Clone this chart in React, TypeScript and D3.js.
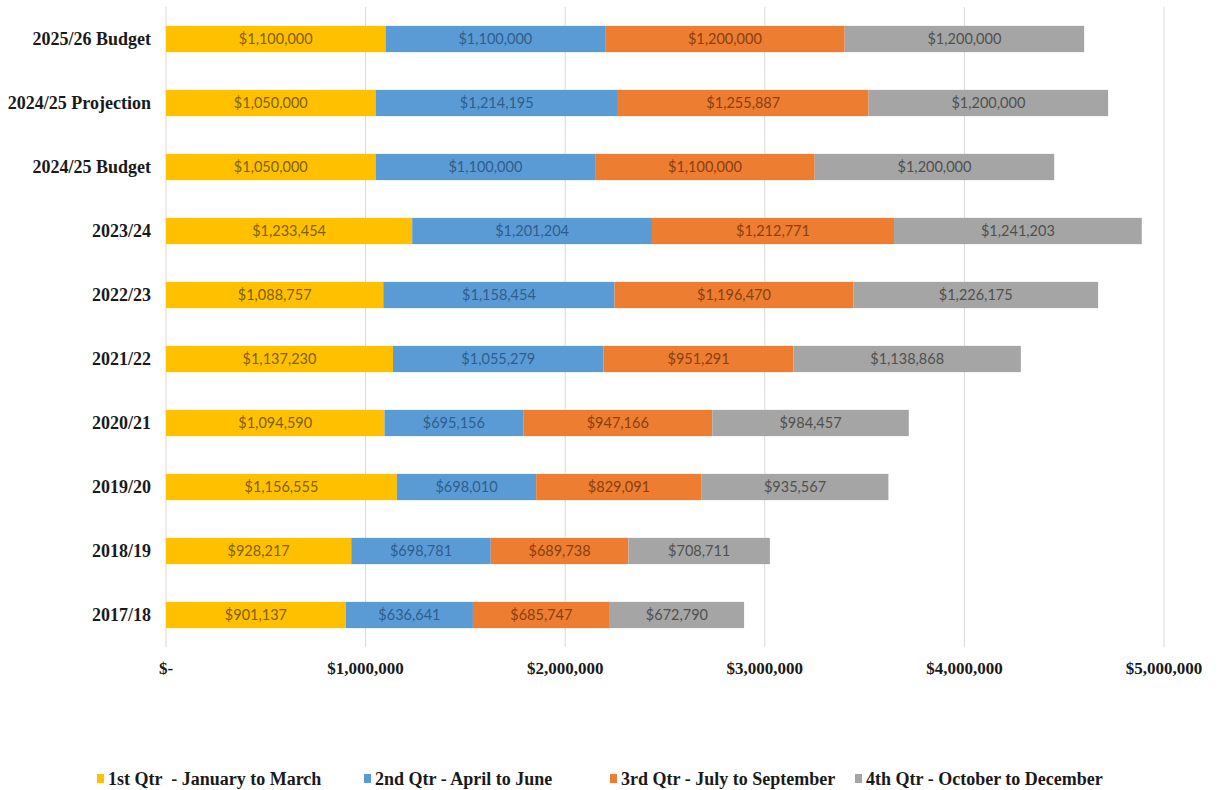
import React from "react";
import * as d3 from "d3";

const categories = [
  "2025/26 Budget",
  "2024/25 Projection",
  "2024/25 Budget",
  "2023/24",
  "2022/23",
  "2021/22",
  "2020/21",
  "2019/20",
  "2018/19",
  "2017/18",
];
const q1 = [1100000, 1050000, 1050000, 1233454, 1088757, 1137230, 1094590, 1156555, 928217, 901137];
const q2 = [1100000, 1214195, 1100000, 1201204, 1158454, 1055279, 695156, 698010, 698781, 636641];
const q3 = [1200000, 1255887, 1100000, 1212771, 1196470, 951291, 947166, 829091, 689738, 685747];
const q4 = [1200000, 1200000, 1200000, 1241203, 1226175, 1138868, 984457, 935567, 708711, 672790];
const seriesNames = [
  "1st Qtr \u00a0- January to March",
  "2nd Qtr - April to June",
  "3rd Qtr - July to September",
  "4th Qtr - October to December",
];
const seriesColors = ["#FFC000", "#5B9BD5", "#ED7D31", "#A5A5A5"];
const labelColors = ["#7F6000", "#2E5E8C", "#8A3F10", "#505050"];
const xTicks = [0, 1000000, 2000000, 3000000, 4000000, 5000000];

const W = 1220;
const H = 790;
const left = 166;
const right = 1164;
const top = 7;
const bottom = 647;

export default function App() {
  const x = d3.scaleLinear().domain([0, 5000000]).range([left, right]);
  const y = d3.scaleBand().domain(categories).range([top, bottom]).paddingInner(0.59).paddingOuter(0.295);
  const rows = categories.map((c, i) => ({ cat: c, v: [q1[i], q2[i], q3[i], q4[i]] }));
  const stack = d3.stack<any>().keys(["0", "1", "2", "3"]).value((d: any, k: string) => d.v[+k]);
  const stacked = stack(rows);
  const fmt = d3.format(",.0f");
  const tickFmt = (v: number) => (v === 0 ? "$-" : "$" + fmt(v));
  const legendX = [97, 364, 610, 855];

  return (
    <svg width={W} height={H} style={{ position: "absolute", left: 0, top: 0, background: "#fff" }}>
      {xTicks.map((t) => (
        <line key={t} x1={x(t)} x2={x(t)} y1={top} y2={bottom} stroke="#D9D9D9" strokeWidth={1} />
      ))}
      {stacked.map((s, si) => (
        <g key={si}>
          {s.map((d: any, i: number) => {
            const x0 = x(d[0]);
            const x1 = x(d[1]);
            const yy = y(d.data.cat)!;
            return (
              <g key={i}>
                <rect x={x0} y={yy} width={x1 - x0} height={y.bandwidth()} fill={seriesColors[si]} />
                <text
                  x={(x0 + x1) / 2}
                  y={yy + y.bandwidth() / 2}
                  dy="0.35em"
                  textAnchor="middle"
                  fontFamily="Lato, 'Open Sans', sans-serif"
                  fontSize={14.5}
                  fill={labelColors[si]}
                >
                  {"$" + fmt(d.data.v[si])}
                </text>
              </g>
            );
          })}
        </g>
      ))}
      {categories.map((c) => (
        <text
          key={c}
          x={151}
          y={y(c)! + y.bandwidth() / 2}
          dy="0.35em"
          textAnchor="end"
          fontFamily="'Liberation Serif', 'Times New Roman', serif"
          fontWeight="bold"
          fontSize={18}
          fill="#1a1a1a"
        >
          {c}
        </text>
      ))}
      {xTicks.map((t) => (
        <text
          key={t}
          x={x(t)}
          y={668}
          dy="0.35em"
          textAnchor="middle"
          fontFamily="'Liberation Serif', 'Times New Roman', serif"
          fontWeight="bold"
          fontSize={17}
          fill="#1a1a1a"
        >
          {tickFmt(t)}
        </text>
      ))}
      {seriesNames.map((n, i) => (
        <g key={n}>
          <rect x={legendX[i]} y={774} width={7} height={9} fill={seriesColors[i]} />
          <text
            x={legendX[i] + 11}
            y={779}
            dy="0.35em"
            fontFamily="'Liberation Serif', 'Times New Roman', serif"
            fontWeight="bold"
            fontSize={18}
            fill="#1a1a1a"
          >
            {n}
          </text>
        </g>
      ))}
    </svg>
  );
}
